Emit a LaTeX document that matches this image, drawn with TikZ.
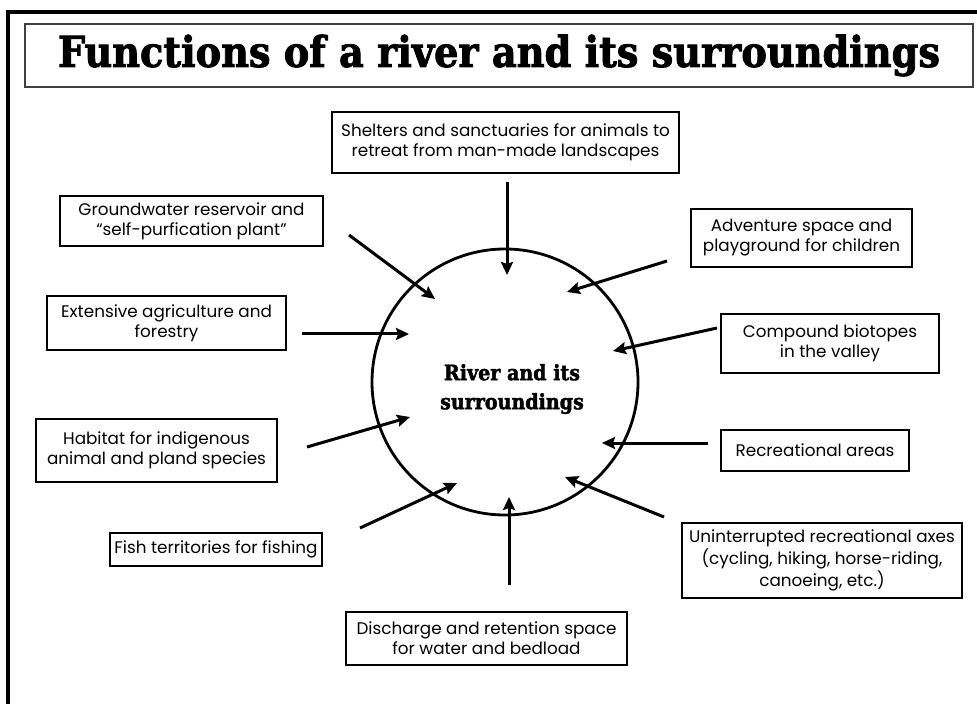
\documentclass[tikz,border=0pt]{standalone}
\usepackage{fontspec}
\usepackage{graphicx}
\setmainfont{Poppins}
\newfontfamily\slabfont{DejaVu Serif Condensed Bold}[FakeBold=2]
\usetikzlibrary{arrows.meta}

\begin{document}
\begin{tikzpicture}[x=0.5pt,y=-0.5pt,>={Stealth[length=6.5pt,width=6pt,inset=1pt]},
    box/.style={draw,line width=0.9pt,align=center,inner sep=0pt,font=\fontsize{8.4}{10}\selectfont},
    push/.style={->,line width=1.5pt}]

  \useasboundingbox (0,0) rectangle (977,704);
  \draw[line width=1.6pt] (8,704) -- (8,12) -- (977,12);

  \node[draw=black!75,line width=0.8pt,minimum width=474pt,minimum height=31.5pt] (title) at (499,55.5)
    {\resizebox{441pt}{!}{\slabfont Functions of a river and its surroundings}};

  \node[circle,draw,line width=1.4pt,minimum size=133pt] (river) at (505,382) {};
  \node[align=center,font=\slabfont\fontsize{10.6}{14.5}\selectfont] (rivertext) at (512,389) {River and its\\surroundings};

  \node[box,minimum width=173.5pt,minimum height=30.5pt] (shelter) at (505.5,142.5) {Shelters and sanctuaries for animals to\\retreat from man-made landscapes};
  \node[box,minimum width=131.5pt,minimum height=25pt] (ground) at (191.5,221) {Groundwater reservoir and\\“self-purfication plant”};
  \node[box,minimum width=119.5pt,minimum height=27pt] (agri) at (166.5,323) {Extensive agriculture and\\forestry};
  \node[box,minimum width=120.5pt,minimum height=31.5pt] (habitat) at (156.5,450.5) {Habitat for indigenous\\animal and pland species};
  \node[box,minimum width=106pt,minimum height=16.5pt] (fish) at (216,549.5) {Fish territories for fishing};
  \node[box,minimum width=140.5pt,minimum height=26.5pt] (discharge) at (486.5,638.5) {Discharge and retention space\\for water and bedload};
  \node[box,minimum width=140pt,minimum height=37.5pt] (axes) at (822,560.5) {Uninterrupted recreational axes\\(cycling, hiking, horse-riding,\\canoeing, etc.)};
  \node[box,minimum width=94pt,minimum height=20.5pt] (recreation) at (815,450.5) {Recreational areas};
  \node[box,minimum width=109pt,minimum height=29.5pt] (biotope) at (830,343.5) {Compound biotopes\\in the valley};
  \node[box,minimum width=110.5pt,minimum height=29pt] (adventure) at (801.5,238) {Adventure space and\\playground for children};

  % arrow ends
  \coordinate (s-shelter) at (507,182);    \coordinate (t-shelter) at (507,275);
  \coordinate (s-ground) at (349,235);     \coordinate (t-ground) at (435,299);
  \coordinate (s-agri) at (302,334);       \coordinate (t-agri) at (409,334);
  \coordinate (s-habitat) at (307,447);    \coordinate (t-habitat) at (410,417);
  \coordinate (s-fish) at (360,528);       \coordinate (t-fish) at (457,483);
  \coordinate (s-discharge) at (509,585);  \coordinate (t-discharge) at (509,497);
  \coordinate (s-axes) at (664,517);       \coordinate (t-axes) at (565,477);
  \coordinate (s-recreation) at (708,443); \coordinate (t-recreation) at (602,443);
  \coordinate (s-biotope) at (717,328);    \coordinate (t-biotope) at (613,351);
  \coordinate (s-adventure) at (667,261);  \coordinate (t-adventure) at (567,292);

  \path[push] (s-shelter) edge (t-shelter)
              (s-ground) edge (t-ground)
              (s-agri) edge (t-agri)
              (s-habitat) edge (t-habitat)
              (s-fish) edge (t-fish)
              (s-discharge) edge (t-discharge)
              (s-axes) edge (t-axes)
              (s-recreation) edge (t-recreation)
              (s-biotope) edge (t-biotope)
              (s-adventure) edge (t-adventure);
\end{tikzpicture}
\end{document}
